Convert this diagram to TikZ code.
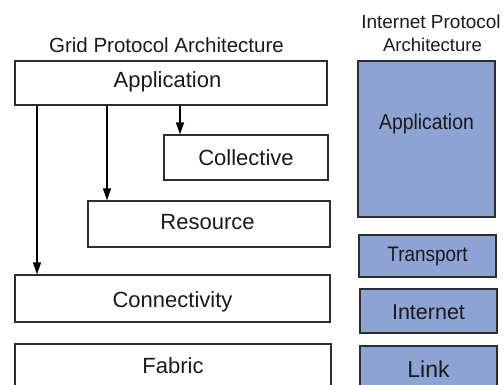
\documentclass[tikz,border=0pt]{standalone}
\usepackage{fontspec}
\setmainfont{Liberation Sans}
\newfontfamily\narrowsans[FakeStretch=0.9]{Liberation Sans}
\usetikzlibrary{arrows.meta}

\definecolor{edge}{HTML}{2E2E2E}
\definecolor{ink}{HTML}{1A1A1A}
\definecolor{layerblue}{HTML}{8CA3D3}

% font of a given size whose capitals are centred in the node
\tikzset{
  sized/.style={font=\fontsize{#1}{#1}\selectfont,
    text height=0.716*#1pt, text depth=0pt},
  narrowsized/.style={font=\narrowsans\fontsize{#1}{#1}\selectfont,
    text height=0.716*#1pt, text depth=0pt}
}

\begin{document}
\begin{tikzpicture}[x=1pt,y=-1pt,
  layer/.style={draw=edge, line width=1.3pt, fill=white, text=ink,
    inner sep=0pt, sized=22},
  iplayer/.style={layer, fill=layerblue},
  title/.style={text=ink, inner sep=0pt},
  arr/.style={draw=black, line width=1.4pt,
    -{Triangle[length=12pt,width=8pt]}}]

\useasboundingbox (0,0) rectangle (504,385);
\clip (0,0) rectangle (504,385);
\fill[white] (0,0) rectangle (504,385);

% column headings
\node[title, sized=20.5] (gtitle) at (166.5,45) {Grid Protocol Architecture};
\node[title, sized=19] (ititle1) at (431,22) {Internet Protocol};
\node[title, sized=18.5] (ititle2) at (432.5,45) {Architecture};

% grid protocol layers
\node[layer, minimum width=312pt, minimum height=44pt] (gapp) at (171,83)
  {\raisebox{3.5pt}{\hspace*{-7pt}Application}};
\node[layer, minimum width=164pt, minimum height=45pt] (gcol) at (246,157.5) {Collective};
\node[layer, minimum width=242pt, minimum height=46pt] (gres) at (209,224)
  {\raisebox{2pt}{\hspace*{-3pt}Resource}};
\node[layer, minimum width=315pt, minimum height=47pt] (gcon) at (172.5,298.5)
  {\raisebox{-1pt}{Connectivity}};
\node[layer, minimum width=316pt, minimum height=48pt] (gfab) at (173,368)
  {\raisebox{2pt}{Fabric}};

% internet protocol layers
\node[iplayer, minimum width=137pt, minimum height=156pt, narrowsized=21.5] (iapp) at (426.5,139)
  {\raisebox{17pt}{Application}};
\node[iplayer, minimum width=137pt, minimum height=42pt, narrowsized=21] (itra) at (427.5,256)
  {\raisebox{2pt}{Transport}};
\node[iplayer, minimum width=137pt, minimum height=44pt, sized=21.5] (iint) at (428.5,311)
  {\raisebox{-1pt}{Internet}};
\node[iplayer, minimum width=137pt, minimum height=48pt, sized=23] (ilnk) at (428.5,370)
  {\raisebox{1pt}{Link}};

% application calls into the lower grid layers
\coordinate (xcon) at (37,0);
\coordinate (xres) at (107,0);
\coordinate (xcol) at (180,0);
\draw[arr] (xcon |- gapp.south) -- (xcon |- gcon.north);
\draw[arr] (xres |- gapp.south) -- (xres |- gres.north);
\draw[arr] (xcol |- gapp.south) -- (xcol |- gcol.north);

\end{tikzpicture}
\end{document}
